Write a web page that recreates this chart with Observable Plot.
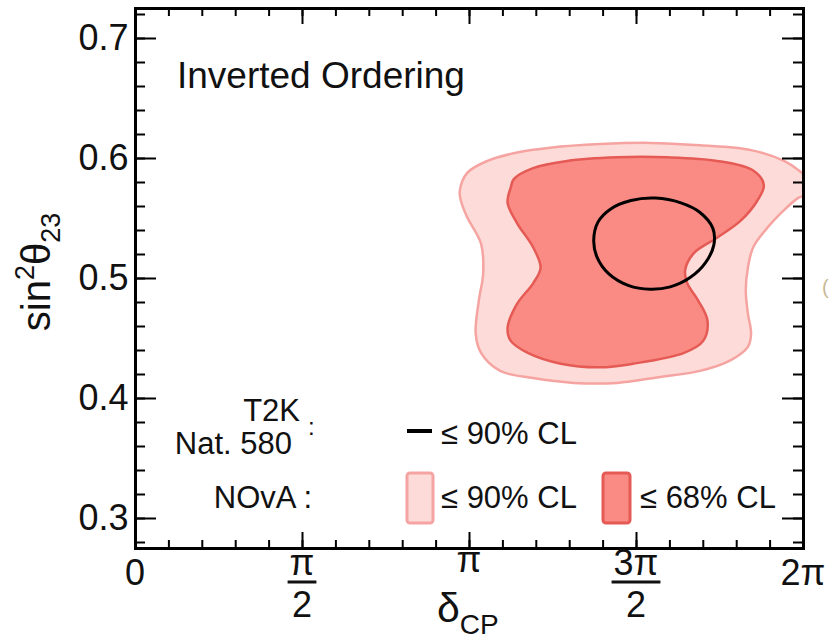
<!DOCTYPE html>
<html>
<head>
<meta charset="utf-8">
<script src="https://cdn.jsdelivr.net/npm/d3@7"></script>
<script src="https://cdn.jsdelivr.net/npm/@observablehq/plot@0.6"></script>
<style>
  body { margin: 0; background: #fff; }
  #chart { width: 833px; height: 639px; }
  #chart svg text { font-family: "Liberation Sans", Arial, Helvetica, sans-serif; }
</style>
</head>
<body>
<div id="chart"></div>
<script>
const PI = Math.PI;

// NOvA allowed region, <= 90% CL  (δCP in radians, sin²θ23)
const novaOuter90 = [
  [3.05, 0.573], [3.12, 0.588], [3.31, 0.598], [3.59, 0.605], [3.90, 0.609],
  [4.37, 0.612], [4.84, 0.613], [5.31, 0.611], [5.79, 0.607], [6.10, 0.598],
  [6.24, 0.590], [6.33, 0.582], [6.30, 0.570], [6.23, 0.567], [6.10, 0.557],
  [5.95, 0.543], [5.81, 0.526], [5.76, 0.509], [5.74, 0.490], [5.76, 0.471],
  [5.79, 0.454], [5.76, 0.443], [5.60, 0.432], [5.31, 0.423], [4.94, 0.418],
  [4.53, 0.413], [4.12, 0.413], [3.74, 0.417], [3.43, 0.423], [3.25, 0.438],
  [3.20, 0.454], [3.23, 0.482], [3.27, 0.504], [3.25, 0.529], [3.12, 0.551],
  [3.06, 0.565]
];

// NOvA allowed region, <= 68% CL
const novaInner68 = [
  [3.53, 0.576], [3.50, 0.563], [3.59, 0.546], [3.74, 0.526], [3.81, 0.509],
  [3.74, 0.496], [3.59, 0.479], [3.50, 0.459], [3.53, 0.448], [3.69, 0.438],
  [4.00, 0.429], [4.37, 0.426], [4.68, 0.429], [5.16, 0.438], [5.34, 0.448],
  [5.38, 0.465], [5.29, 0.482], [5.19, 0.496], [5.17, 0.507], [5.25, 0.521],
  [5.47, 0.534], [5.69, 0.548], [5.85, 0.565], [5.91, 0.578], [5.81, 0.590],
  [5.47, 0.598], [5.00, 0.601], [4.53, 0.601], [4.06, 0.598], [3.74, 0.592],
  [3.56, 0.583]
];

// T2K (Nature 580) allowed region, <= 90% CL
const t2k90 = [
  [4.31, 0.532], [4.35, 0.547], [4.47, 0.558], [4.66, 0.565], [4.89, 0.567],
  [5.13, 0.563], [5.31, 0.555], [5.43, 0.542], [5.44, 0.528], [5.36, 0.513],
  [5.22, 0.501], [5.03, 0.493], [4.84, 0.491], [4.64, 0.494], [4.45, 0.504],
  [4.34, 0.518]
];

// Axis ticks and labels
const xMajor = [0, PI / 2, PI, 3 * PI / 2, 2 * PI];
const xNumer = ["0", "π", "π", "3π", "2π"];
const xDenom = [null, "2", null, "2", null];
const xMinor = d3.range(0, 21).map(i => i * PI / 10);
const yMajor = [0.3, 0.4, 0.5, 0.6, 0.7];
const yMinor = d3.range(14, 37).map(i => i / 50);

const asPoints = arr => arr.map(([d, s]) => ({d, s}));

const W = 833, H = 639;
const mL = 135, mR = 30, mT = 8, mB = 91;
const frameW = W - mL - mR, frameH = H - mT - mB;
const xMinorLen = 8, xMajorLen = 16, yMinorLen = 10, yMajorLen = 21;

const plot = Plot.plot({
  width: W, height: H,
  marginLeft: mL, marginRight: mR, marginTop: mT, marginBottom: mB,
  style: {background: "#fff", fontFamily: "Liberation Sans, Arial, sans-serif"},
  x: {domain: [0, 2 * PI], axis: null, label: null},
  y: {domain: [0.275, 0.725], axis: null, label: null},
  marks: [
    Plot.line(asPoints(novaOuter90), {x: "d", y: "s", curve: "catmull-rom-closed", clip: true,
      fill: "#fddbd8", stroke: "#f5a4a1", strokeWidth: 2.5}),
    Plot.line(asPoints(novaInner68), {x: "d", y: "s", curve: "catmull-rom-closed", clip: true,
      fill: "#fa8b84", stroke: "#e55a54", strokeWidth: 2.5}),
    Plot.line(asPoints(t2k90), {x: "d", y: "s", curve: "catmull-rom-closed", clip: true,
      stroke: "#000", strokeWidth: 3}),

    // inward ticks on all four sides
    Plot.ruleX(xMinor, {stroke: "#000", strokeWidth: 2, insetTop: frameH - xMinorLen}),
    Plot.ruleX(xMinor, {stroke: "#000", strokeWidth: 2, insetBottom: frameH - xMinorLen}),
    Plot.ruleX(xMajor, {stroke: "#000", strokeWidth: 2, insetTop: frameH - xMajorLen}),
    Plot.ruleX(xMajor, {stroke: "#000", strokeWidth: 2, insetBottom: frameH - xMajorLen}),
    Plot.ruleY(yMinor, {stroke: "#000", strokeWidth: 2, insetRight: frameW - yMinorLen}),
    Plot.ruleY(yMinor, {stroke: "#000", strokeWidth: 2, insetLeft: frameW - yMinorLen}),
    Plot.ruleY(yMajor, {stroke: "#000", strokeWidth: 2, insetRight: frameW - yMajorLen}),
    Plot.ruleY(yMajor, {stroke: "#000", strokeWidth: 2, insetLeft: frameW - yMajorLen}),

    Plot.axisY(yMajor, {anchor: "left", tickSize: 0, tickPadding: 7, fontSize: 36,
      tickFormat: d3.format(".1f"), label: null, fill: "#111"}),
    Plot.frame({stroke: "#000", strokeWidth: 3})
  ]
});

document.getElementById("chart").appendChild(plot);

const svg = d3.select(plot);
const xs = plot.scale("x");
const font = "Liberation Sans, Arial, sans-serif";
const g = svg.append("g").attr("fill", "#111").attr("text-anchor", "start")
  .style("font-family", font);

// x tick labels written as fractions of π
xMajor.forEach((v, i) => {
  const cx = xs.apply(v);
  if (xDenom[i]) {
    const num = g.append("text").attr("x", cx).attr("y", 575).attr("text-anchor", "middle")
      .attr("font-size", 36).text(xNumer[i]);
    const w = num.node().getComputedTextLength();
    g.append("line").attr("x1", cx - w / 2 - 2).attr("x2", cx + w / 2 + 2)
      .attr("y1", 582).attr("y2", 582).attr("stroke", "#111").attr("stroke-width", 3);
    g.append("text").attr("x", cx).attr("y", 617).attr("text-anchor", "middle")
      .attr("font-size", 36).text(xDenom[i]);
  } else {
    g.append("text").attr("x", cx).attr("y", xNumer[i] === "π" ? 572 : 585)
      .attr("text-anchor", "middle").attr("font-size", 36).text(xNumer[i]);
  }
});

// x axis title: δ_CP
const xt = g.append("text").attr("x", 437).attr("y", 622).attr("font-size", 41);
xt.append("tspan").text("δ");
xt.append("tspan").attr("font-size", 28).attr("dy", 12).text("CP");

// y axis title: sin²θ23
const yt = g.append("text").attr("transform", "translate(50,272) rotate(-90)")
  .attr("text-anchor", "middle").attr("font-size", 40);
yt.append("tspan").text("sin");
yt.append("tspan").attr("font-size", 27).attr("dy", -16).text("2");
yt.append("tspan").attr("dy", 16).text("θ");
yt.append("tspan").attr("font-size", 27).attr("dy", 10).text("23");

// panel title
g.append("text").attr("x", 177).attr("y", 88).attr("font-size", 37).text("Inverted Ordering");

// legend
const lf = 31;
g.append("text").attr("x", 300).attr("y", 421).attr("text-anchor", "end").attr("font-size", lf).text("T2K");
g.append("text").attr("x", 292).attr("y", 454).attr("text-anchor", "end").attr("font-size", lf).text("Nat. 580");
g.append("text").attr("x", 308).attr("y", 435).attr("font-size", 24).text(":");
g.append("text").attr("x", 312).attr("y", 508).attr("text-anchor", "end").attr("font-size", lf).text("NOvA :");

g.append("line").attr("x1", 407).attr("x2", 432).attr("y1", 431).attr("y2", 431)
  .attr("stroke", "#000").attr("stroke-width", 4);
g.append("text").attr("x", 441).attr("y", 444).attr("font-size", lf).text("≤ 90% CL");

g.append("rect").attr("x", 407).attr("y", 473).attr("width", 26).attr("height", 50).attr("rx", 3)
  .attr("fill", "#fddbd8").attr("stroke", "#f5a4a1").attr("stroke-width", 3);
g.append("text").attr("x", 441).attr("y", 508).attr("font-size", lf).text("≤ 90% CL");

g.append("rect").attr("x", 603).attr("y", 473).attr("width", 27).attr("height", 50).attr("rx", 3)
  .attr("fill", "#fa8b84").attr("stroke", "#e55a54").attr("stroke-width", 3);
g.append("text").attr("x", 640).attr("y", 508).attr("font-size", lf).text("≤ 68% CL");

// fragment of a neighbouring label at the right edge
g.append("text").attr("x", 822).attr("y", 294).attr("font-size", 20).attr("fill", "#c9b994").text("(");
</script>
</body>
</html>
